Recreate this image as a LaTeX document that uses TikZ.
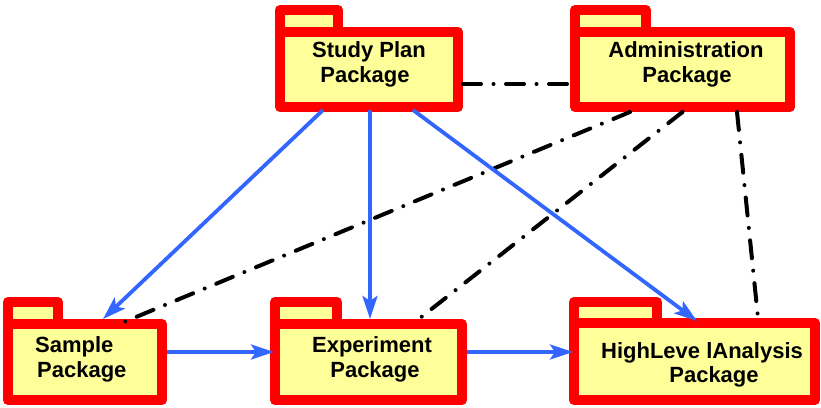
\documentclass[tikz,border=0pt]{standalone}
\usepackage{fontspec}
\setmainfont{Liberation Sans}
\usetikzlibrary{calc,arrows.meta}
\definecolor{pkgred}{RGB}{255,0,0}
\definecolor{pkgfill}{RGB}{255,255,153}
\definecolor{flow}{RGB}{51,102,255}
\begin{document}
\begin{tikzpicture}[x=1pt,y=-1pt,
  pkgbody/.style={draw=pkgred, fill=pkgfill, line width=10pt, line join=round, rectangle, inner sep=0pt},
  pkgtab/.style={draw=pkgred, fill=pkgfill, line width=10pt, line join=round},
  lbl/.style={font=\bfseries\fontsize{22}{25}\selectfont, inner sep=0pt, anchor=base},
  flowarrow/.style={draw=flow, line width=3.8pt, -{Stealth[length=23pt,width=15pt,inset=5pt]}},
  assoc/.style={draw=black, line width=4pt, line cap=round, dash pattern=on 18pt off 12.5pt on 0pt off 12.5pt}]
\useasboundingbox (0,0) rectangle (821,407);
% package bodies
\node[pkgbody, minimum width=178pt, minimum height=75pt] (sp) at (369,69.5) {};
\node[pkgbody, minimum width=215pt, minimum height=75pt] (ad) at (682.5,69.5) {};
\node[pkgbody, minimum width=154pt, minimum height=76pt] (sa) at (85,362) {};
\node[pkgbody, minimum width=187pt, minimum height=76pt] (ex) at (368.5,362) {};
\node[pkgbody, minimum width=241pt, minimum height=77pt] (hl) at (694.5,361.5) {};
% tabs
\draw[pkgtab] ($(sp.north west)+(5,5)$) rectangle ($(sp.north west)+(63,-17)$);
\draw[pkgtab] ($(ad.north west)+(5,5)$) rectangle ($(ad.north west)+(76,-17)$);
\draw[pkgtab] ($(sa.north west)+(5,5)$) rectangle ($(sa.north west)+(55,-17)$);
\draw[pkgtab] ($(ex.north west)+(5,5)$) rectangle ($(ex.north west)+(67,-17)$);
\draw[pkgtab] ($(hl.north west)+(5,5)$) rectangle ($(hl.north west)+(88,-16)$);
% labels
\node[lbl] (sp1) at (369,57) {Study Plan};
\node[lbl] (sp2) at (365,82) {Package};
\node[lbl] (ad1) at (686,57) {Administration};
\node[lbl] (ad2) at (687,82) {Package};
\node[lbl, anchor=base west] (sa1) at (35,352) {Sample};
\node[lbl, anchor=base west] (sa2) at (37,377) {Package};
\node[lbl] (ex1) at (372,352) {Experiment};
\node[lbl] (ex2) at (375,377) {Package};
\node[lbl] (hl1) at (702,358) {HighLeve lAnalysis};
\node[lbl] (hl2) at (714,382) {Package};
% associations (dash-dot)
\draw[assoc] ($(sp.east)+(0,14.5)$) -- ($(ad.west)+(0,14.5)$);
\draw[assoc] ($(ad.south)+(-52.5,0)$) -- ($(sa.north)+(39,3)$);
\draw[assoc] (ad.south) -- ($(ex.north)+(46.5,3)$);
\draw[assoc] ($(ad.south)+(54.5,0)$) -- ($(hl.north)+(63.5,0)$);
% dependencies (blue arrows)
\draw[flowarrow] ($(sp.south)+(-46,-2)$) -- ($(sa.north)+(18,0)$);
\draw[flowarrow] ($(sp.south)+(1,-2)$) -- ($(ex.north)+(1.5,0)$);
\draw[flowarrow] ($(sp.south)+(44,-2)$) -- ($(hl.north)+(2.5,3)$);
\draw[flowarrow] ($(sa.east)+(0,-10)$) -- ($(ex.west)+(4,-10)$);
\draw[flowarrow] ($(ex.east)+(0,-10)$) -- ($(hl.west)+(4,-9.5)$);
\end{tikzpicture}
\end{document}
